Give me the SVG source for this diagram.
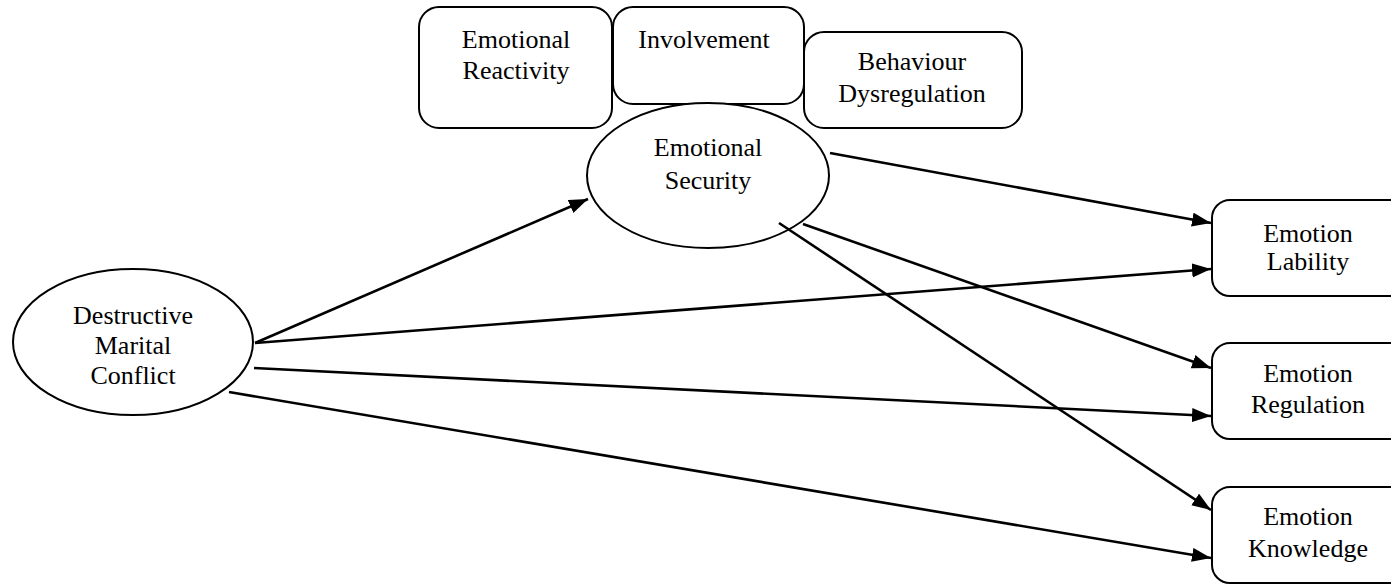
<svg xmlns="http://www.w3.org/2000/svg" width="1391" height="584" viewBox="0 0 1391 584">
<style>
.box{fill:#fff;stroke:#000;stroke-width:2}
.el{fill:#fff;stroke:#000;stroke-width:2}
.t{font-family:"Liberation Serif","Times New Roman",serif;font-size:26px;fill:#000;text-anchor:middle}
.c{stroke:#000;stroke-width:2.6;fill:none;marker-end:url(#ah)}
</style>
<defs>
<marker id="ah" markerUnits="userSpaceOnUse" markerWidth="20" markerHeight="15" refX="19" refY="7" orient="auto">
<path d="M0,0 L19,7 L0,14 z" fill="#000"/>
</marker>
</defs>
<rect width="1391" height="584" fill="#fff"/>
<g id="reactivity">
<rect class="box" x="419" y="7" width="193" height="121" rx="20"/>
<text class="t" x="516" y="48">Emotional</text>
<text class="t" x="516" y="79">Reactivity</text>
</g>
<g id="involvement">
<rect class="box" x="613" y="7" width="191" height="97" rx="20"/>
<text class="t" x="704" y="48">Involvement</text>
</g>
<g id="behaviour">
<rect class="box" x="804" y="32" width="218" height="96" rx="20"/>
<text class="t" x="912" y="70">Behaviour</text>
<text class="t" x="912" y="102">Dysregulation</text>
</g>
<g id="security">
<ellipse class="el" cx="708" cy="175.5" rx="121" ry="72.5"/>
<text class="t" x="708" y="156">Emotional</text>
<text class="t" x="708" y="189">Security</text>
</g>
<g id="conflict">
<ellipse class="el" cx="133" cy="342" rx="120" ry="73"/>
<text class="t" x="133" y="324">Destructive</text>
<text class="t" x="133" y="354">Marital</text>
<text class="t" x="133" y="384">Conflict</text>
</g>
<g id="lability">
<rect class="box" x="1212" y="200" width="210" height="96" rx="18"/>
<text class="t" x="1308" y="242">Emotion</text>
<text class="t" x="1308" y="270">Lability</text>
</g>
<g id="regulation">
<rect class="box" x="1212" y="343" width="210" height="96" rx="18"/>
<text class="t" x="1308" y="382">Emotion</text>
<text class="t" x="1308" y="413">Regulation</text>
</g>
<g id="knowledge">
<rect class="box" x="1212" y="487" width="210" height="96" rx="18"/>
<text class="t" x="1308" y="525">Emotion</text>
<text class="t" x="1308" y="557">Knowledge</text>
</g>
<g id="connectors">
<line class="c" x1="255" y1="343" x2="588" y2="199"/>
<line class="c" x1="830" y1="153" x2="1211" y2="223"/>
<line class="c" x1="255" y1="343" x2="1211" y2="269"/>
<line class="c" x1="803" y1="224" x2="1211" y2="368"/>
<line class="c" x1="254" y1="368" x2="1211" y2="416"/>
<line class="c" x1="779" y1="223" x2="1211" y2="510"/>
<line class="c" x1="229" y1="392" x2="1211" y2="558"/>
</g>
</svg>
